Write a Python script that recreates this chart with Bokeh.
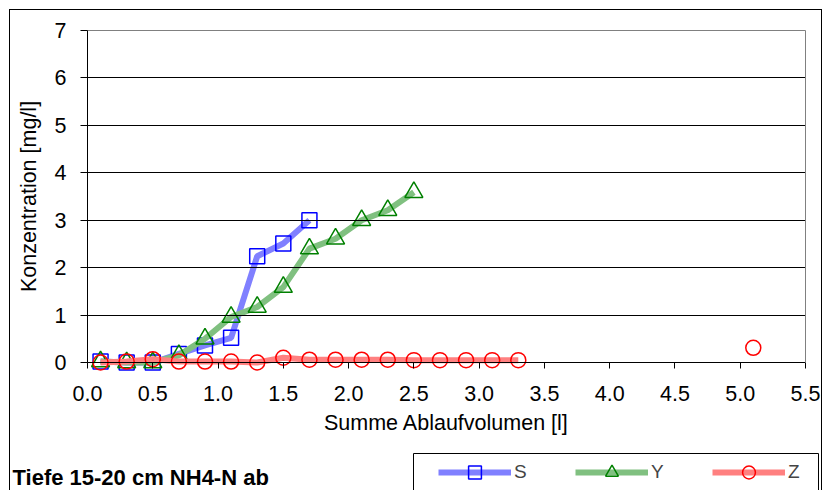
from bokeh.plotting import figure
from bokeh.layouts import column
from bokeh.models import (Range1d, FixedTicker, Legend, LegendItem, Label,
                          BoxAnnotation, ColumnDataSource, LinearAxis)
from bokeh.embed import file_html
from bokeh.resources import INLINE

# ---- data ----
s_x = [0.1, 0.3, 0.5, 0.7, 0.9, 1.1, 1.3, 1.5, 1.7]
s_y = [0.02, 0.0, 0.0, 0.18, 0.36, 0.52, 2.24, 2.51, 3.0]

y_x = [0.1, 0.3, 0.5, 0.7, 0.9, 1.1, 1.3, 1.5, 1.7, 1.9, 2.1, 2.3, 2.5]
y_y = [0.02, 0.0, 0.0, 0.15, 0.5, 0.96, 1.17, 1.59, 2.4, 2.61, 3.0, 3.21, 3.59]

z_x = [0.1, 0.3, 0.5, 0.7, 0.9, 1.1, 1.3, 1.5, 1.7, 1.9, 2.1, 2.3, 2.5,
       2.7, 2.9, 3.1, 3.3, 4.1, 5.1]
z_y = [0.0, 0.02, 0.07, 0.02, 0.02, 0.02, 0.0, 0.1, 0.06, 0.06, 0.06, 0.06,
       0.05, 0.05, 0.05, 0.05, 0.05, float("nan"), 0.31]

x_ticks = [0.0, 0.5, 1.0, 1.5, 2.0, 2.5, 3.0, 3.5, 4.0, 4.5, 5.0, 5.5]
x_tick_labels = ["0.0", "0.5", "1.0", "1.5", "2.0", "2.5", "3.0", "3.5",
                 "4.0", "4.5", "5.0", "5.5"]
y_ticks = [0, 1, 2, 3, 4, 5, 6, 7]
y_tick_labels = ["0", "1", "2", "3", "4", "5", "6", "7"]

series_names = ["S", "Y", "Z"]
line_colors = ["#8080ff", "#80c080", "#ff8080"]
marker_colors = ["#0000ff", "#008000", "#ff0000"]
markers = ["square", "triangle", "circle"]
marker_sizes = [15, 18, 15]
title_text = "Tiefe 15-20 cm NH4-N ab"
x_label = "Summe Ablaufvolumen [l]"
y_label = "Konzentration [mg/l]"

FONT = "Liberation Sans"

# ---- geometry (pixels) ----
W, H = 811, 480            # canvas size
PLOT_L, PLOT_R = 77, 795   # pixel position of x=0 and x=5.5 inside the canvas
PLOT_T, PLOT_B = 20, 352   # pixel position of y=7 and y=0 inside the canvas
x0, x1 = x_ticks[0], x_ticks[-1]
y0, y1 = y_ticks[0], y_ticks[-1]
ppx = (PLOT_R - PLOT_L) / (x1 - x0)
ppy = (PLOT_B - PLOT_T) / (y1 - y0)
x_range = Range1d(x0 - PLOT_L / ppx, x1 + (W - PLOT_R) / ppx)
y_range = Range1d(y0 - (H - PLOT_B) / ppy, y1 + PLOT_T / ppy)

p = figure(width=W, height=H, x_range=x_range, y_range=y_range,
           output_backend="svg", toolbar_location=None,
           min_border_left=0, min_border_right=0, min_border_top=0,
           min_border_bottom=0, x_axis_location=None, y_axis_location=None)
p.outline_line_color = None
p.xgrid.visible = False
p.ygrid.visible = False

def style_axis(ax):
    ax.axis_line_color = "black"
    ax.major_tick_line_color = "black"
    ax.major_tick_in = 0
    ax.major_tick_out = 6
    ax.minor_tick_line_color = None
    ax.major_label_text_font = FONT
    ax.major_label_text_font_size = "21.5px"
    ax.major_label_text_color = "black"
    ax.axis_label_text_font = FONT
    ax.axis_label_text_font_size = "21.5px"
    ax.axis_label_text_font_style = "normal"
    ax.axis_label_text_color = "black"

# horizontal gridlines drawn as bounded axes (no ticks)
for gy in y_ticks[1:-1]:
    g = LinearAxis(fixed_location=gy, bounds=(x0, x1), ticker=FixedTicker(ticks=[]),
                   axis_line_color="black", major_tick_line_color=None,
                   minor_tick_line_color=None, major_label_text_color=None)
    p.add_layout(g, "below")

# top and right frame lines (gray)
top = LinearAxis(fixed_location=y1, bounds=(x0, x1), ticker=FixedTicker(ticks=[]),
                 axis_line_color="#808080", major_tick_line_color=None,
                 minor_tick_line_color=None, major_label_text_color=None)
p.add_layout(top, "above")
right = LinearAxis(fixed_location=x1, bounds=(y0, y1), ticker=FixedTicker(ticks=[]),
                   axis_line_color="#808080", major_tick_line_color=None,
                   minor_tick_line_color=None, major_label_text_color=None)
p.add_layout(right, "right")

xaxis = LinearAxis(fixed_location=y0, bounds=(x0, x1), ticker=FixedTicker(ticks=x_ticks),
                   axis_label=x_label)
style_axis(xaxis)
xaxis.major_label_overrides = {t: l for t, l in zip(x_ticks, x_tick_labels)}
xaxis.major_label_standoff = 17
xaxis.axis_label_standoff = 7
p.add_layout(xaxis, "below")

yaxis = LinearAxis(fixed_location=x0, bounds=(y0, y1), ticker=FixedTicker(ticks=y_ticks),
                   axis_label=y_label)
style_axis(yaxis)
yaxis.major_label_overrides = {t: l for t, l in zip(y_ticks, y_tick_labels)}
yaxis.major_tick_out = 7
yaxis.major_label_standoff = 14
yaxis.axis_label_standoff = 11
p.add_layout(yaxis, "left")

sources = [ColumnDataSource(dict(x=s_x, y=s_y)),
           ColumnDataSource(dict(x=y_x, y=y_y)),
           ColumnDataSource(dict(x=z_x, y=z_y))]

items = []
for name, src, lc, mc, mk, ms in zip(series_names, sources, line_colors,
                                     marker_colors, markers, marker_sizes):
    r1 = p.line("x", "y", source=src, line_color=lc, line_width=6)
    r2 = p.scatter("x", "y", source=src, marker=mk, size=ms,
                   fill_color=None, line_color=mc, line_width=1.5)
    items.append(LegendItem(label=name, renderers=[r1, r2]))

box = BoxAnnotation(left=403, right=808, top=37, bottom=-20,
                    left_units="screen", right_units="screen",
                    top_units="screen", bottom_units="screen",
                    fill_color="white", fill_alpha=1, line_color="black",
                    line_width=1, line_alpha=1)
p.add_layout(box)

legend = Legend(items=items, orientation="horizontal", location=(428, 2),
                padding=0, spacing=41, glyph_width=73, glyph_height=32,
                label_standoff=3, label_text_font=FONT,
                label_text_font_size="19px", border_line_color=None,
                background_fill_alpha=0)
p.add_layout(legend)

title = Label(x=2, y=13, x_units="screen", y_units="screen", text=title_text,
              text_font=FONT, text_font_style="bold", text_font_size="22px",
              text_baseline="alphabetic", text_color="black")
p.add_layout(title)

layout = column(p, spacing=0, margin=(9, 0, 0, 9))
layout.styles = {"border-left": "1px solid black", "border-top": "1px solid black",
                 "border-right": "1px solid black"}

open("out.html", "w").write(file_html(layout, INLINE))
